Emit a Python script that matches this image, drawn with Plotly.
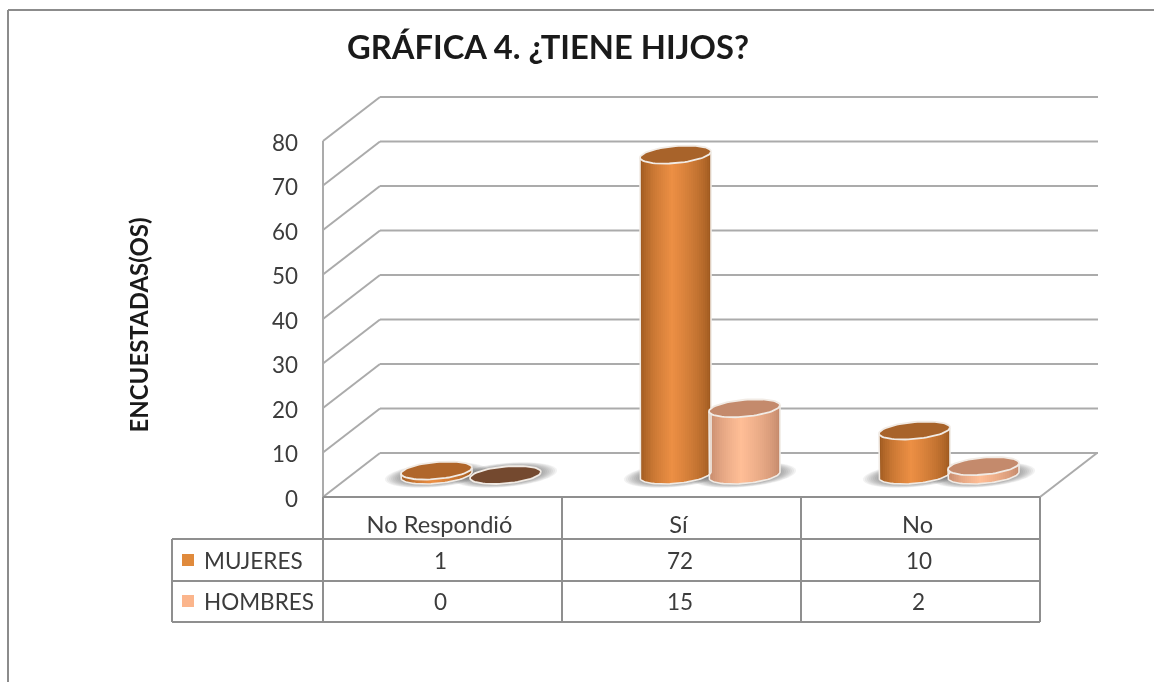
import math
import plotly.graph_objects as go

# ---- data ----
categories = ["No Respondió", "Sí", "No"]
mujeres = [1, 72, 10]
hombres = [0, 15, 2]
y_ticks = [0, 10, 20, 30, 40, 50, 60, 70, 80]
title_text = "GRÁFICA 4. ¿TIENE HIJOS?"
y_title = "ENCUESTADAS(OS)"

# ---- geometry (pixels on the 1154x682 page) ----
W, H = 1154, 682
X0, Y0 = 323, 497       # front-left corner of the floor
PX_CAT = 239            # px per category
PX_VAL = 4.45           # px per unit of value
DEPTH_X, DEPTH_Y = 57, 44
RX, RY, SLOPE = 35.5, 8.5, 0.085
BAR_SHIFT = 34.5
N_STRIPS = 36
DOMAIN_BOTTOM = 650     # page row of the y-axis domain's lower end

ux = lambda px: px / PX_CAT
uy = lambda px: px / PX_VAL
pap_x = lambda px: px / W
pap_y = lambda px: 1 - px / H
GRID = "#ababab"
TABLE = "#8f8f8f"
TEXT = "#3c3c3c"
FONT = "Lato"


def mix(a, b, t):
    return tuple(a[i] + (b[i] - a[i]) * t for i in range(3))


def css(c):
    return "rgb(%d,%d,%d)" % tuple(round(v) for v in c)


def shade(dark, light, t):
    # cylinder shading: dark edges, bright band a little left of centre
    p = 0.46
    u = t / p if t < p else (1 - t) / (1 - p)
    return css(mix(dark, light, min(1, u ** 0.62)))


def ellipse(cx, cy, rx, ry, n=72):
    xs, ys = [], []
    for k in range(n + 1):
        a = 2 * math.pi * k / n
        dx = rx * math.cos(a)
        xs.append(cx + ux(dx))
        ys.append(cy + uy(ry * math.sin(a) + SLOPE * dx))
    return xs, ys


series = [
    dict(name="MUJERES", vals=mujeres, shift=-BAR_SHIFT, dark=(150, 84, 28), light=(236, 143, 68),
         top=["#b0662a", "#a8632a", "#a8632a"], key="#e08a3c"),
    dict(name="HOMBRES", vals=hombres, shift=BAR_SHIFT, dark=(190, 132, 104), light=(255, 190, 150),
         top=["#74492f", "#c48a6c", "#c48a6c"], key="#fbb58c"),
]

fig = go.Figure()
shapes = []
base_level = uy(DEPTH_Y / 2)
cluster = [i + 0.5 + ux(DEPTH_X / 2) for i in range(len(categories))]

# walls and floor
line = dict(color=GRID, width=2)
for v in y_ticks:
    bx, by = ux(DEPTH_X), v + uy(DEPTH_Y)
    shapes.append(dict(type="line", xref="x", yref="y", x0=0, y0=v, x1=bx, y1=by, line=line, layer="below"))
    shapes.append(dict(type="line", xref="x", yref="y", x0=bx, y0=by, x1=3 + bx + ux(1), y1=by, line=line, layer="below"))
shapes.append(dict(type="line", xref="x", yref="y", x0=0, y0=0, x1=0, y1=80, line=line, layer="below"))
shapes.append(dict(type="line", xref="x", yref="y", x0=3, y0=0, x1=3 + ux(DEPTH_X), y1=uy(DEPTH_Y), line=line, layer="below"))

# soft shadows on the floor
for s in series:
    for c in cluster:
        cx = c + ux(s["shift"])
        for grow in (16, 14, 12, 10, 8, 6, 4, 2):
            xs, ys = ellipse(cx, base_level, RX + grow, RY + grow * 0.22)
            path = "M" + " L".join("%.4f,%.4f" % p for p in zip(xs, ys)) + " Z"
            shapes.append(dict(type="path", xref="x", yref="y", path=path, fillcolor="#555555",
                               opacity=0.075, line=dict(width=0), layer="below"))

# cylinder bodies: one bar trace per vertical strip
for s in series:
    for k in range(N_STRIPS):
        t = (k + 0.5) / N_STRIPS
        d = 2 * t - 1
        off = d * RX
        lower = -RY * math.sqrt(max(0, 1 - d * d)) + SLOPE * off
        fig.add_trace(go.Bar(
            x=[c + ux(s["shift"] + off) for c in cluster],
            y=s["vals"],
            base=[base_level + uy(lower)] * len(cluster),
            width=ux(2 * RX / N_STRIPS + 0.7),
            marker=dict(color=shade(s["dark"], s["light"], t), line=dict(width=0)),
            showlegend=False, hoverinfo="skip",
        ))

# cylinder outlines and caps
OUT = "#f1ebe5"
for s in series:
    for i, c in enumerate(cluster):
        cx = c + ux(s["shift"])
        v = s["vals"][i]
        if v > 0:
            xs, ys = [], []
            xs.append(cx + ux(-RX)); ys.append(base_level + v + uy(-SLOPE * RX))
            for k in range(0, 41):
                d = -math.cos(math.pi * k / 40)
                off = d * RX
                xs.append(cx + ux(off))
                ys.append(base_level + uy(-RY * math.sqrt(max(0, 1 - d * d)) + SLOPE * off))
            xs.append(cx + ux(RX)); ys.append(base_level + v + uy(SLOPE * RX))
            fig.add_trace(go.Scatter(x=xs, y=ys, mode="lines", line=dict(color=OUT, width=1.6),
                                     showlegend=False, hoverinfo="skip"))
        xs, ys = ellipse(cx, base_level + v, RX, RY)
        fig.add_trace(go.Scatter(x=xs, y=ys, mode="lines", fill="toself", fillcolor=s["top"][i],
                                 line=dict(color=OUT, width=1.8), showlegend=False, hoverinfo="skip"))

# data table rules
tline = dict(color=TABLE, width=2)
xs_tab = [X0 + PX_CAT * i for i in range(4)]
rows = [539, 581, 622]
LEFT = 172
def rule(x0, y0, x1, y1):
    shapes.append(dict(type="line", xref="paper", yref="paper", x0=pap_x(x0), y0=pap_y(y0),
                       x1=pap_x(x1), y1=pap_y(y1), line=tline))
rule(X0, Y0, xs_tab[3], Y0)
for x in xs_tab:
    rule(x, Y0, x, rows[2])
rule(LEFT, rows[0], LEFT, rows[2])
for r in rows:
    rule(LEFT, r, xs_tab[3], r)

# page frame
frame = dict(color="#8c8c8c", width=2)
shapes.append(dict(type="line", xref="paper", yref="paper", x0=pap_x(8), y0=pap_y(10), x1=1, y1=pap_y(10), line=frame))
shapes.append(dict(type="line", xref="paper", yref="paper", x0=pap_x(8), y0=pap_y(10), x1=pap_x(8), y1=0, line=frame))

# table cells
annotations = []
row_mid = [560, 601]
for r, s in enumerate(series):
    annotations.append(dict(xref="paper", yref="paper", x=pap_x(202), y=pap_y(row_mid[r]), text=s["name"],
                            showarrow=False, xanchor="left", yanchor="middle",
                            font=dict(family=FONT, size=22.5, color=TEXT)))
    fig.add_trace(go.Scatter(x=[ux(188 - X0)], y=[uy(Y0 - row_mid[r])], mode="markers", name=s["name"],
                             marker=dict(symbol="square", size=12, color=s["key"]),
                             showlegend=False, hoverinfo="skip", cliponaxis=False))
    for i, v in enumerate(s["vals"]):
        annotations.append(dict(xref="x", yref="paper", x=i + 0.5 - ux(2), y=pap_y(row_mid[r]), text=str(v),
                                showarrow=False, xanchor="center", yanchor="middle",
                                font=dict(family=FONT, size=22.5, color=TEXT)))

fig.update_layout(
    width=W, height=H, autosize=False,
    margin=dict(l=0, r=0, t=0, b=0),
    paper_bgcolor="white", plot_bgcolor="rgba(0,0,0,0)",
    barmode="overlay", bargap=0,
    showlegend=False,
    shapes=shapes, annotations=annotations,
    title=dict(text=title_text, x=548 / W, xanchor="center", y=1 - 48 / H, yanchor="middle",
               font=dict(family=FONT, size=32.7, color="#1a1a1a", weight="bold")),
    xaxis=dict(range=[-X0 / PX_CAT, (W - X0) / PX_CAT], anchor="free", position=pap_y(Y0),
               tickmode="array", tickvals=[0.5, 1.5, 2.5], ticktext=categories,
               showgrid=False, zeroline=False, showline=False, ticks="", ticklabelstandoff=11,
               ticklabelshift=-3,
               tickfont=dict(family=FONT, size=23.6, color=TEXT), fixedrange=True),
    yaxis=dict(range=[-(DOMAIN_BOTTOM - Y0) / PX_VAL, Y0 / PX_VAL], domain=[pap_y(DOMAIN_BOTTOM), 1],
               anchor="free", position=pap_x(X0),
               tickmode="array", tickvals=y_ticks,
               showgrid=False, zeroline=False, showline=False, ticks="", ticklabelstandoff=25,
               ticklabelshift=2,
               tickfont=dict(family=FONT, size=22.4, color=TEXT), fixedrange=True,
               title=dict(text=y_title, standoff=115,
                          font=dict(family=FONT, size=24, color="#1a1a1a", weight="bold"))),
)

fig.write_html("out.html", config=dict(displayModeBar=False, responsive=False),
               post_script="document.body.style.margin='0';document.body.style.overflow='hidden';"
                           "document.querySelector('.plotly-graph-div').style.filter='blur(0.6px)';")
